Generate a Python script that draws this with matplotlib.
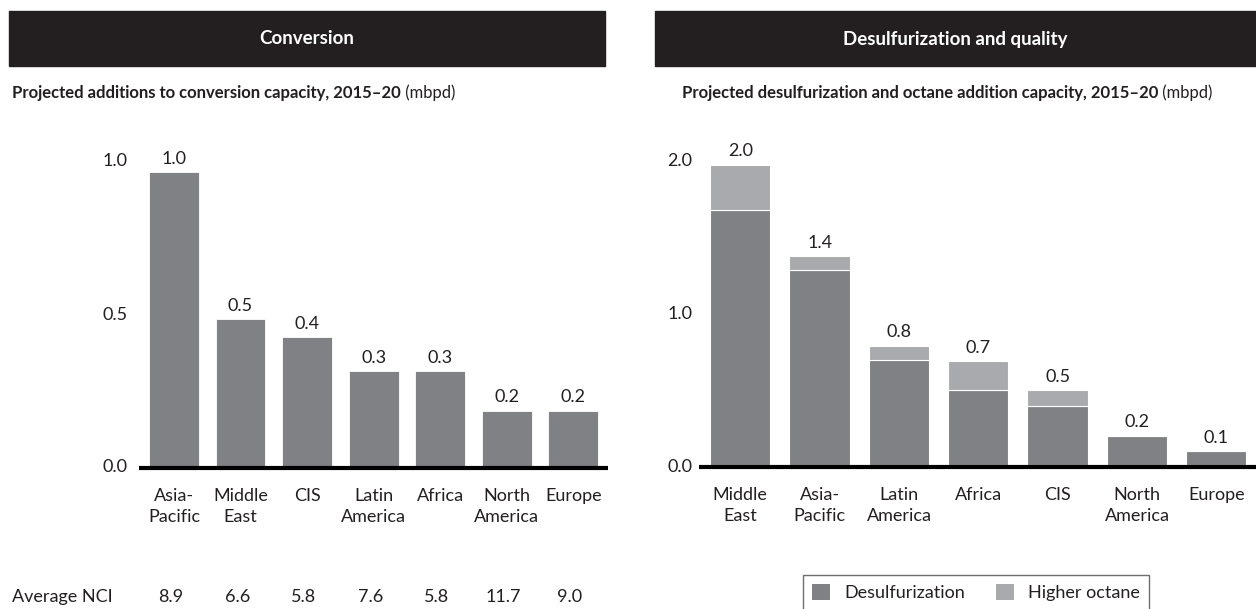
import matplotlib
matplotlib.use('Agg')
import matplotlib.pyplot as plt
from matplotlib.patches import Rectangle, Patch
from matplotlib.transforms import blended_transform_factory

W, H = 1256, 609

# conversion panel
conv_regions = ['Asia-\nPacific', 'Middle\nEast', 'CIS', 'Latin\nAmerica',
                'Africa', 'North\nAmerica', 'Europe']
conv_values = [0.96, 0.48, 0.42, 0.31, 0.31, 0.18, 0.18]
avg_nci = ['8.9', '6.6', '5.8', '7.6', '5.8', '11.7', '9.0']
conv_ticks = [0.0, 0.5, 1.0]

# desulfurization panel
desulf_regions = ['Middle\nEast', 'Asia-\nPacific', 'Latin\nAmerica', 'Africa',
                  'CIS', 'North\nAmerica', 'Europe']
desulf_values = [1.67, 1.28, 0.69, 0.49, 0.39, 0.19, 0.09]
octane_values = [0.30, 0.09, 0.09, 0.19, 0.10, 0.0, 0.0]
desulf_ticks = [0.0, 1.0, 2.0]

DARK = '#808184'
LIGHT = '#a8aaad'
INK = '#231f20'
FONT = ['Lato', 'DejaVu Sans']

plt.rcParams['font.family'] = FONT
plt.rcParams['font.size'] = 13
plt.rcParams['text.color'] = INK


def box(x0, y0, x1, y1):
    # pixel box -> figure fraction [left, bottom, width, height]
    return [x0 / W, 1 - y1 / H, (x1 - x0) / W, (y1 - y0) / H]


def style_axes(ax, labels, ticks, pad_y):
    for s in ['top', 'right', 'left']:
        ax.spines[s].set_visible(False)
    ax.spines['bottom'].set_linewidth(3)
    ax.spines['bottom'].set_color('black')
    ax.spines['bottom'].set_capstyle('butt')
    ax.set_xticks(range(len(labels)))
    ax.set_xticklabels(labels, linespacing=1.4)
    ax.set_yticks(ticks)
    ax.set_yticklabels([f'{t:.1f}' for t in ticks])
    ax.tick_params(axis='x', length=0, pad=14.5, labelsize=13, colors=INK)
    ax.tick_params(axis='y', length=0, pad=pad_y, labelsize=13, colors=INK)
    ax.set_facecolor('none')


fig = plt.figure(figsize=(W / 100, H / 100), dpi=100)

# headers
for (x0, x1), title in [((9, 605), 'Conversion'),
                        ((655, 1256), 'Desulfurization and quality')]:
    fig.patches.append(Rectangle((x0 / W, 1 - 66 / H), (x1 - x0) / W, 55 / H,
                                 transform=fig.transFigure, color='#231f20'))
    fig.text((x0 + x1) / 2 / W, 1 - 39 / H, title, color='white',
             fontsize=13.5, fontweight='bold', ha='center', va='center')

# subtitles
for x0, bold in [(12, 'Projected additions to conversion capacity, 2015\u201320'),
                 (682, 'Projected desulfurization and octane addition capacity, 2015\u201320')]:
    t = fig.text(x0 / W, 1 - 93 / H, bold, fontsize=12, fontweight='bold',
                 ha='left', va='center')
    fig.add_artist(plt.Annotation(' (mbpd)', xy=(1, 0), xycoords=t,
                                  va='bottom', ha='left', fontsize=12))

# left chart
ax1 = fig.add_axes(box(139, 160, 608, 468))
x = range(len(conv_values))
ax1.bar(x, conv_values, width=0.75, color=DARK, edgecolor='white', linewidth=0.6)
for i, v in enumerate(conv_values):
    ax1.annotate(f'{v:.1f}', (i, v), xytext=(0, 4), textcoords='offset points',
                 ha='center', va='bottom', fontsize=13)
ax1.set_xlim(-0.525, 6.52)
ax1.set_ylim(-2 / 306, 1.0)
style_axes(ax1, conv_regions, conv_ticks, 8)

fig.text(12 / W, 1 - 597 / H, 'Average NCI', ha='left', va='center', fontsize=13)
tr = blended_transform_factory(ax1.transData, fig.transFigure)
for i, s in enumerate(avg_nci):
    ax1.text(i - 0.05, 1 - 597 / H, s, transform=tr, ha='center', va='center',
             fontsize=13)

# right chart
ax2 = fig.add_axes(box(699, 160, 1256, 467))
x = range(len(desulf_values))
totals = [d + o for d, o in zip(desulf_values, octane_values)]
ax2.bar(x, desulf_values, width=0.76, color=DARK, edgecolor='white',
        linewidth=0.8, label='Desulfurization')
ax2.bar(x, octane_values, bottom=desulf_values, width=0.76, color=LIGHT,
        edgecolor='white', linewidth=0.8, label='Higher octane')
for i, v in enumerate(totals):
    ax2.annotate(f'{v:.1f}', (i, v), xytext=(0, 4), textcoords='offset points',
                 ha='center', va='bottom', fontsize=13)
ax2.set_xlim(-0.52, 6.5)
ax2.set_ylim(-2 / 152.5, 2.0)
style_axes(ax2, desulf_regions, desulf_ticks, 5)

handles = [Patch(facecolor=DARK, label='Desulfurization'),
           Patch(facecolor=LIGHT, label='Higher octane')]
leg = fig.legend(handles=handles, loc='upper left',
                 bbox_to_anchor=(803 / W, 1 - 575 / H), ncol=2,
                 frameon=True, fancybox=False, framealpha=1,
                 edgecolor='#6d6e71', borderaxespad=0, borderpad=0.5,
                 handlelength=1.0, handleheight=1.0, handletextpad=0.8,
                 columnspacing=1.7, fontsize=13)
leg.get_frame().set_linewidth(1)

fig.savefig('out.png', dpi=100)
